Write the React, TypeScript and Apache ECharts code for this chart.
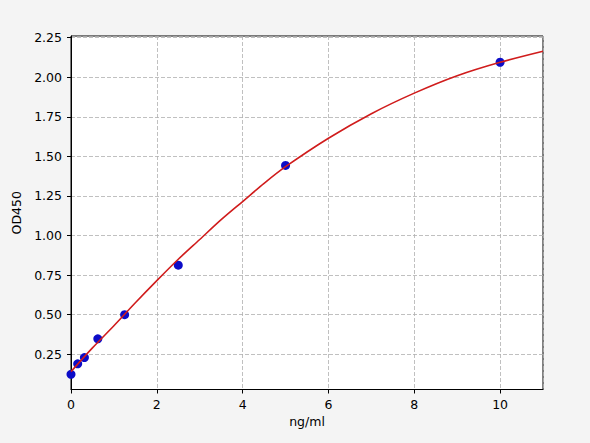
import { useEffect, useRef } from "react";
import * as echarts from "echarts";

// standards (concentration ng/ml, OD450)
const stdConc = [0, 0.156, 0.3125, 0.625, 1.25, 2.5, 5, 10];
const stdOD = [0.123, 0.189, 0.229, 0.347, 0.5, 0.813, 1.443, 2.095];

// fitted curve
const fitConc = [0, 0.5, 1, 1.5, 2, 2.5, 3, 3.5, 4, 4.5, 5, 6, 7, 8, 9, 10, 11];
const fitOD = [
  0.14, 0.29, 0.43, 0.575, 0.715, 0.85, 0.975, 1.1, 1.215, 1.33, 1.435, 1.615,
  1.77, 1.9, 2.01, 2.095, 2.165,
];

const FONT = "DejaVu Sans";

export default function App() {
  const chartRef = useRef<HTMLDivElement>(null);

  useEffect(() => {
    document.body.style.margin = "0";
    if (!chartRef.current) return;
    const chart = echarts.init(chartRef.current, undefined, { renderer: "svg" });

    const gridLine = {
      show: true,
      lineStyle: { color: "#b0b0b0", width: 0.8, type: [4, 2] as number[] },
    };

    chart.setOption({
      animation: false,
      backgroundColor: "#f4f4f4",
      grid: {
        left: 71,
        right: 47,
        top: 36,
        bottom: 53.5,
        show: true,
        backgroundColor: "#ffffff",
        borderColor: "#000000",
        borderWidth: 1,
      },
      xAxis: {
        type: "value",
        min: 0,
        max: 11,
        interval: 2,
        name: "ng/ml",
        nameLocation: "middle",
        nameGap: 25,
        nameTextStyle: { fontFamily: FONT, fontSize: 12.5, color: "#000" },
        axisLine: { show: true, lineStyle: { color: "#000", width: 1 } },
        axisTick: { show: true, length: 4, lineStyle: { color: "#000" } },
        axisLabel: {
          fontFamily: FONT,
          fontSize: 12.5,
          color: "#000",
          margin: 8,
          showMaxLabel: false,
        },
        splitLine: gridLine,
      },
      yAxis: {
        type: "value",
        min: 0.027,
        max: 2.261,
        minInterval: 0.25,
        maxInterval: 0.25,
        name: "OD450",
        nameLocation: "middle",
        nameGap: 42,
        nameTextStyle: { fontFamily: FONT, fontSize: 12.5, color: "#000" },
        axisLine: { show: true, lineStyle: { color: "#000", width: 1 } },
        axisTick: { show: true, length: 4, lineStyle: { color: "#000" } },
        axisLabel: {
          fontFamily: FONT,
          fontSize: 12.5,
          color: "#000",
          margin: 9,
          showMinLabel: false,
          showMaxLabel: false,
          formatter: (v: number) => v.toFixed(2),
        },
        splitLine: gridLine,
      },
      series: [
        {
          type: "scatter",
          data: stdConc.map((c, i) => [c, stdOD[i]]),
          symbolSize: 9,
          itemStyle: { color: "#0c0cc8", opacity: 1 },
          z: 2,
        },
        {
          type: "line",
          data: fitConc.map((c, i) => [c, fitOD[i]]),
          smooth: 0.3,
          showSymbol: false,
          lineStyle: { color: "#d01c1c", width: 1.6 },
          z: 3,
        },
      ],
    });

    return () => {
      chart.dispose();
    };
  }, []);

  return <div ref={chartRef} style={{ width: 590, height: 443 }} />;
}
